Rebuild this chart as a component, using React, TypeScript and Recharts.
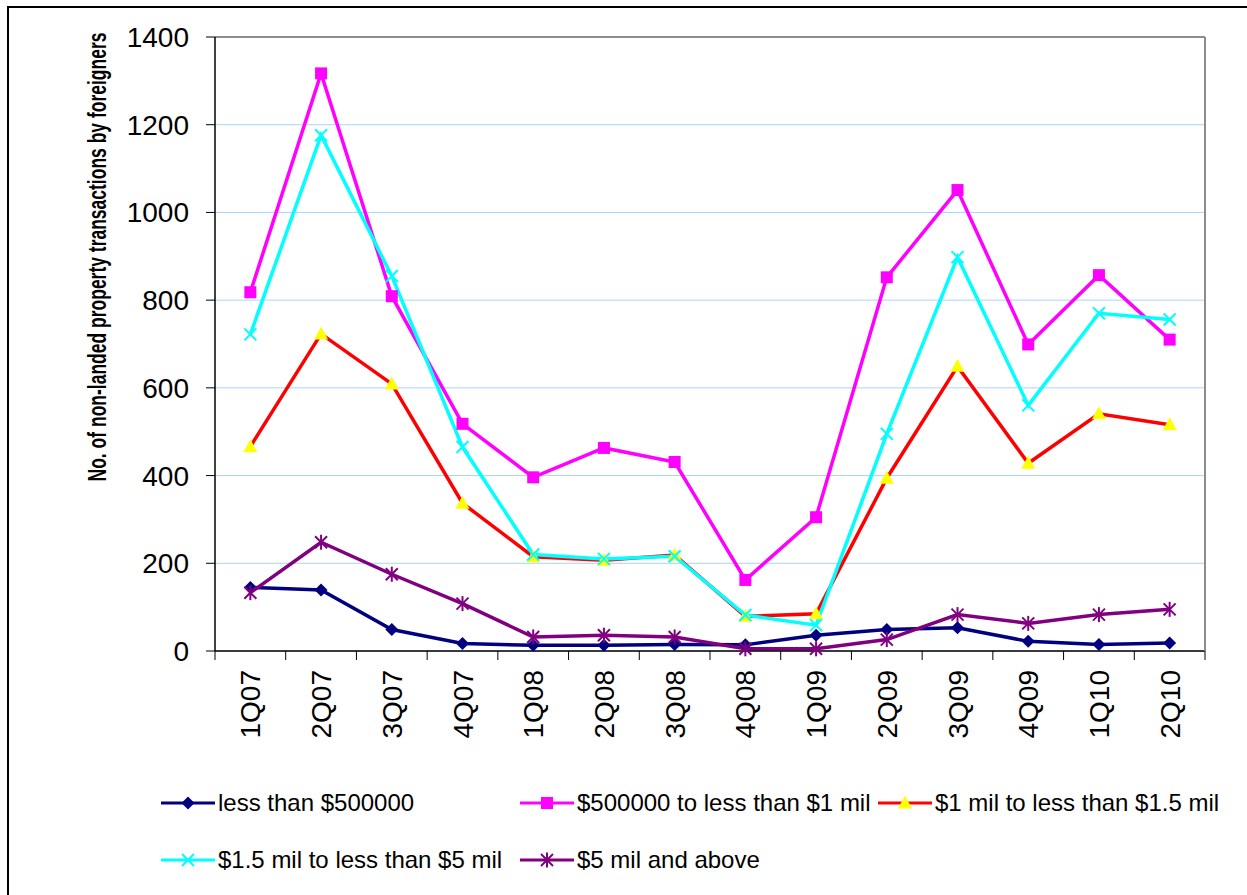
import React from 'react';
import { LineChart, Line, XAxis, YAxis, CartesianGrid, ReferenceLine } from 'recharts';

// Quarterly non-landed property transactions by foreigners, by price band
const categories = ['1Q07', '2Q07', '3Q07', '4Q07', '1Q08', '2Q08', '3Q08', '4Q08', '1Q09', '2Q09', '3Q09', '4Q09', '1Q10', '2Q10'];
const below500k = [145, 139, 49, 17, 13, 13, 15, 14, 36, 49, 53, 22, 15, 18];
const from500kTo1m = [818, 1317, 809, 518, 396, 463, 431, 162, 305, 852, 1051, 699, 857, 710];
const from1mTo1_5m = [466, 723, 609, 337, 215, 207, 219, 79, 85, 394, 649, 428, 541, 516];
const from1_5mTo5m = [722, 1176, 855, 465, 220, 210, 216, 82, 59, 495, 898, 560, 770, 756];
const above5m = [133, 248, 175, 108, 32, 36, 32, 5, 5, 26, 83, 63, 83, 95];
const yTicks = [0, 200, 400, 600, 800, 1000, 1200, 1400];

const FONT = '"Liberation Sans", Arial, sans-serif';

type MarkerKind = 'diamond' | 'square' | 'triangle' | 'cross' | 'star';

interface SeriesDef {
  key: string;
  name: string;
  values: number[];
  line: string;
  marker: MarkerKind;
  markerColor: string;
}

const series: SeriesDef[] = [
  { key: 'below500k', name: 'less than $500000', values: below500k, line: '#000080', marker: 'diamond', markerColor: '#000080' },
  { key: 'from500kTo1m', name: '$500000 to less than $1 mil', values: from500kTo1m, line: '#FF00FF', marker: 'square', markerColor: '#FF00FF' },
  { key: 'from1mTo1_5m', name: '$1 mil to less than $1.5 mil', values: from1mTo1_5m, line: '#FF0000', marker: 'triangle', markerColor: '#FFFF00' },
  { key: 'from1_5mTo5m', name: '$1.5 mil to less than $5 mil', values: from1_5mTo5m, line: '#00FFFF', marker: 'cross', markerColor: '#00FFFF' },
  { key: 'above5m', name: '$5 mil and above', values: above5m, line: '#800080', marker: 'star', markerColor: '#800080' },
];

const data = categories.map((q, i) => {
  const row: Record<string, string | number> = { quarter: q };
  series.forEach((s) => {
    row[s.key] = s.values[i];
  });
  return row;
});

function Marker({ kind, color, cx, cy }: { kind: MarkerKind; color: string; cx: number; cy: number }) {
  switch (kind) {
    case 'diamond':
      return <polygon points={`${cx},${cy - 6.5} ${cx + 6.5},${cy} ${cx},${cy + 6.5} ${cx - 6.5},${cy}`} fill={color} />;
    case 'square':
      return <rect x={cx - 6} y={cy - 6} width={12} height={12} fill={color} />;
    case 'triangle':
      return <polygon points={`${cx},${cy - 7.5} ${cx + 7},${cy + 5.5} ${cx - 7},${cy + 5.5}`} fill={color} />;
    case 'cross':
      return (
        <g stroke={color} strokeWidth={2}>
          <line x1={cx - 6} y1={cy - 6} x2={cx + 6} y2={cy + 6} />
          <line x1={cx - 6} y1={cy + 6} x2={cx + 6} y2={cy - 6} />
        </g>
      );
    case 'star':
    default:
      return (
        <g stroke={color} strokeWidth={2}>
          <line x1={cx - 6} y1={cy - 6} x2={cx + 6} y2={cy + 6} />
          <line x1={cx - 6} y1={cy + 6} x2={cx + 6} y2={cy - 6} />
          <line x1={cx} y1={cy - 7.5} x2={cx} y2={cy + 7.5} />
        </g>
      );
  }
}

// Category tick: rotated label plus tick marks on the band boundaries
function QuarterTick(props: any) {
  const { x, y, payload, index, width, visibleTicksCount } = props;
  const half = width / visibleTicksCount / 2;
  const axisY = y - 19;
  return (
    <g>
      {index === 0 && <line x1={x - half} y1={axisY} x2={x - half} y2={axisY + 9} stroke="#000" strokeWidth={1} />}
      <line x1={x + half} y1={axisY} x2={x + half} y2={axisY + 9} stroke="#000" strokeWidth={1} />
      <text
        x={x}
        y={y}
        dy="0.36em"
        transform={`rotate(-90, ${x}, ${y})`}
        textAnchor="end"
        fontSize={28}
        fontFamily={FONT}
        fill="#000"
      >
        {payload.value}
      </text>
    </g>
  );
}

function LegendItem({ s, left, top }: { s: SeriesDef; left: number; top: number }) {
  return (
    <div style={{ position: 'absolute', left, top, display: 'flex', alignItems: 'center', height: 24 }}>
      <svg width={58} height={20} style={{ display: 'block' }}>
        <line x1={2} y1={10} x2={56} y2={10} stroke={s.line} strokeWidth={3} />
        <Marker kind={s.marker} color={s.markerColor} cx={29} cy={10} />
      </svg>
      <span style={{ fontFamily: FONT, fontSize: 24, color: '#000', whiteSpace: 'nowrap', marginLeft: 1, lineHeight: '24px' }}>
        {s.name}
      </span>
    </div>
  );
}

const legendSlots = [
  { left: 159, top: 791 },
  { left: 518, top: 791 },
  { left: 876, top: 791 },
  { left: 159, top: 848 },
  { left: 518, top: 848 },
];

export default function App() {
  return (
    <div style={{ position: 'absolute', left: 0, top: 0, width: 1247, height: 895, overflow: 'hidden', background: '#fff' }}>
      <div
        style={{
          position: 'absolute',
          left: 7,
          top: 6,
          width: 1400,
          height: 1100,
          borderLeft: '2px solid #000',
          borderTop: '2px solid #000',
        }}
      />
      <div style={{ position: 'absolute', left: 0, top: 0 }}>
        <LineChart
          width={1247}
          height={895}
          data={data}
          margin={{ top: 37, right: 41, bottom: 144, left: 100 }}
        >
          <CartesianGrid horizontal vertical={false} stroke="#A8D4FF" strokeWidth={1} />
          <XAxis
            dataKey="quarter"
            scale="band"
            height={100}
            axisLine={{ stroke: '#000', strokeWidth: 1.5 }}
            tickLine={false}
            tickSize={9}
            tickMargin={10}
            interval={0}
            tick={<QuarterTick />}
          />
          <YAxis
            domain={[0, 1400]}
            ticks={yTicks}
            width={115}
            interval={0}
            axisLine={{ stroke: '#000', strokeWidth: 1.5 }}
            tickLine={{ stroke: '#000' }}
            tickSize={9}
            tickMargin={17}
            tick={{ fontSize: 28, fontFamily: FONT, fill: '#000' }}
          />
          <YAxis
            yAxisId="frame"
            orientation="right"
            domain={[0, 1400]}
            width={1}
            tick={false}
            tickLine={false}
            axisLine={{ stroke: '#8C8C8C', strokeWidth: 2 }}
          />
          <ReferenceLine y={1400} stroke="#8C8C8C" strokeWidth={2} />
          {series.map((s) => (
            <Line
              key={s.key}
              type="linear"
              dataKey={s.key}
              name={s.name}
              stroke={s.line}
              strokeWidth={3.5}
              isAnimationActive={false}
              activeDot={false}
              dot={(p: any) => <Marker key={`${s.key}-${p.index}`} kind={s.marker} color={s.markerColor} cx={p.cx} cy={p.cy} />}
            />
          ))}
        </LineChart>
      </div>
      <svg style={{ position: 'absolute', left: 0, top: 0, pointerEvents: 'none' }} width={1247} height={895}>
        {/* condensed bold axis title */}
        <g transform="translate(97, 257) rotate(-90) scale(0.7, 1)">
          <text
            x={0}
            y={0}
            textAnchor="middle"
            dy="0.35em"
            fontFamily={FONT}
            fontWeight="bold"
            fontSize={25}
            fill="#000"
          >
            No. of non-landed property transactions by foreigners
          </text>
        </g>
      </svg>
      {series.map((s, i) => (
        <LegendItem key={s.key} s={s} left={legendSlots[i].left} top={legendSlots[i].top} />
      ))}
    </div>
  );
}
